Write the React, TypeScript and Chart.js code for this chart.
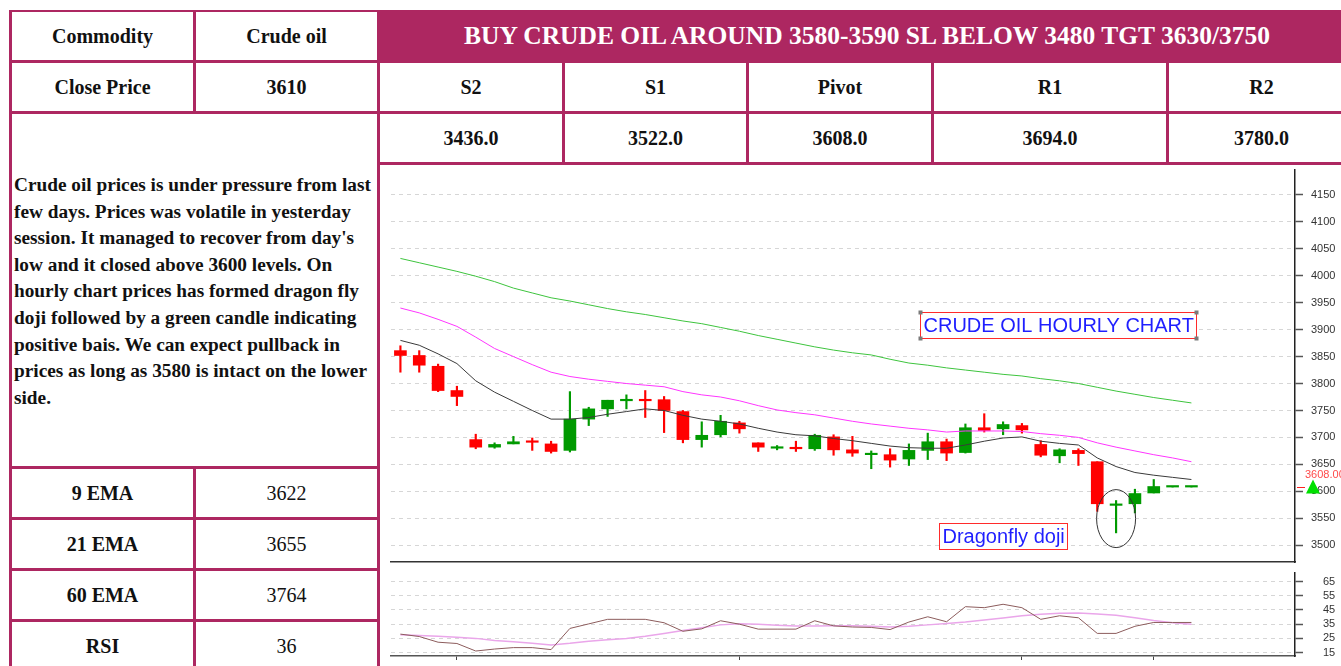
import React, { useEffect, useRef } from "react";
import { Chart, registerables } from "chart.js";

Chart.register(...registerables);

// ---------------- data ----------------
const barLabels = [
  "1", "2", "3", "4", "5", "6", "7", "8", "9", "10", "11", "12", "13", "14", "15",
  "16", "17", "18", "19", "20", "21", "22", "23", "24", "25", "26", "27", "28", "29", "30",
  "31", "32", "33", "34", "35", "36", "37", "38", "39", "40", "41", "42", "43",
];
const emptySlots = ["", "", "", "", ""];

const opens = [3861, 3852, 3832, 3787, 3696, 3682, 3688, 3693, 3688, 3676, 3734, 3753, 3768, 3770, 3770, 3748, 3696, 3705, 3727, 3690, 3680, 3681, 3679, 3701, 3677, 3668, 3668, 3660, 3676, 3692, 3672, 3718, 3716, 3722, 3687, 3666, 3676, 3655, 3574, 3577, 3597, 3608, 3608];
const closes = [3852, 3834, 3787, 3776, 3682, 3687, 3692, 3691, 3674, 3734, 3753, 3769, 3770, 3768, 3750, 3696, 3704, 3730, 3716, 3682, 3682, 3679, 3704, 3677, 3671, 3670, 3658, 3676, 3692, 3671, 3718, 3713, 3724, 3714, 3667, 3677, 3670, 3577, 3575, 3596, 3609, 3608, 3608];
const highs = [3870, 3861, 3836, 3795, 3706, 3690, 3702, 3699, 3693, 3785, 3756, 3769, 3779, 3787, 3776, 3750, 3729, 3741, 3730, 3690, 3685, 3693, 3706, 3705, 3702, 3675, 3679, 3688, 3708, 3697, 3725, 3744, 3729, 3726, 3694, 3679, 3679, 3655, 3583, 3604, 3622, 3608, 3608];
const lows = [3821, 3821, 3785, 3759, 3679, 3680, 3688, 3676, 3671, 3673, 3722, 3739, 3753, 3737, 3709, 3690, 3682, 3701, 3708, 3674, 3677, 3674, 3676, 3667, 3665, 3642, 3645, 3648, 3659, 3657, 3671, 3710, 3705, 3708, 3664, 3653, 3648, 3563, 3523, 3560, 3597, 3608, 3608];

const ema9 = [3880, 3871, 3855, 3837, 3805, 3784, 3767, 3750, 3734, 3734, 3737, 3743, 3748, 3753, 3750, 3741, 3734, 3730, 3725, 3717, 3710, 3705, 3703, 3698, 3694, 3689, 3684, 3681, 3680, 3680, 3686, 3693, 3699, 3701, 3693, 3689, 3686, 3662, 3646, 3635, 3630, 3626, 3622];
const ema21 = [3940, 3931, 3919, 3906, 3886, 3865, 3850, 3835, 3821, 3813, 3808, 3804, 3800, 3797, 3794, 3785, 3779, 3775, 3768, 3759, 3751, 3746, 3742, 3736, 3730, 3725, 3721, 3717, 3714, 3710, 3712, 3712, 3712, 3711, 3707, 3704, 3700, 3690, 3682, 3675, 3668, 3662, 3655];
const ema60 = [4032, 4024, 4016, 4008, 3999, 3989, 3977, 3968, 3959, 3953, 3946, 3939, 3933, 3928, 3922, 3916, 3911, 3904, 3897, 3889, 3882, 3875, 3868, 3862, 3857, 3853, 3845, 3838, 3834, 3829, 3825, 3821, 3817, 3814, 3809, 3805, 3800, 3793, 3786, 3780, 3774, 3769, 3764];

const rsi = [28, 26.3, 22.3, 21.4, 16.1, 17.5, 18.5, 18.5, 17.1, 32, 35.2, 38.4, 38.4, 38.4, 36, 30, 31.7, 37.4, 35, 31.5, 31.5, 31.5, 37.4, 33.8, 33, 32.7, 31.2, 36.5, 40.2, 36.7, 47.3, 46.6, 49, 46.6, 38.4, 40.9, 39.5, 28.5, 28.5, 33.5, 36.2, 36.2, 36.2];
const rsiSignal = [27.5, 27, 26.5, 25.8, 25, 23.5, 22.6, 21.5, 20.3, 21.5, 23, 24, 24.9, 26.5, 28.5, 30.5, 32.5, 34.5, 35.3, 35, 34.3, 33.7, 33.7, 33.8, 33.8, 33.5, 33, 33.6, 34.5, 35.5, 36.5, 38, 39.4, 41, 42, 42.7, 42.9, 42.2, 41.3, 39.5, 37.5, 36, 35];

const priceTicks = [3500, 3550, 3600, 3650, 3700, 3750, 3800, 3850, 3900, 3950, 4000, 4050, 4100, 4150];
const rsiTicks = [15, 25, 35, 45, 55, 65];
const rsiTimeTicks = [3, 18, 33, 40];
const lastPrice = 3608;

// chart annotations, anchored in data units (bar index, price)
const textNotes = [
  { text: "CRUDE OIL HOURLY CHART", index: 27.6, value: 3932, handles: true },
  { text: "Dragonfly doji", index: 28.6, value: 3542, handles: false },
];
const dojiMark = { index: 38, value: 3549.5 };

// table content
const pivotHeads = ["S2", "S1", "Pivot", "R1", "R2"];
const pivotValues = ["3436.0", "3522.0", "3608.0", "3694.0", "3780.0"];
const emaRows = [
  ["9 EMA", "3622"],
  ["21 EMA", "3655"],
  ["60 EMA", "3764"],
  ["RSI", "36"],
];
const commentLines = [
  "Crude oil prices is under pressure from last",
  "few days. Prices was volatile in yesterday",
  "session. It managed to recover from day's",
  "low and it closed above 3600 levels. On",
  "hourly chart prices has formed dragon fly",
  "doji followed by a green candle indicating",
  "positive bais. We can expect pullback in",
  "prices as long as 3580 is intact on the lower",
  "side.",
];
const headline = "BUY CRUDE OIL AROUND 3580-3590 SL BELOW 3480 TGT 3630/3750";

// ---------------- styles ----------------
const MAROON = "#AD2761";
const SERIF = "'Liberation Serif', 'Times New Roman', serif";
const SANS = "'Liberation Sans', Arial, sans-serif";
const UP = "#009a00";
const DOWN = "#ff0000";

function fixRightAxis(s: any) {
  s.width = 41;
  s.paddingTop = 0;
  s.paddingBottom = 0;
}

function PriceChart() {
  const ref = useRef<HTMLCanvasElement>(null);
  useEffect(() => {
    const labels = [...barLabels, ...emptySlots];
    const colors = opens.map((o, i) => (closes[i] >= o ? UP : DOWN));
    const overlay = {
      id: "overlay",
      afterDatasetsDraw(c: any) {
        const { ctx } = c;
        const xs = c.scales.x;
        const ys = c.scales.y;
        ctx.save();
        ctx.beginPath();
        ctx.ellipse(
          xs.getPixelForValue(dojiMark.index),
          ys.getPixelForValue(dojiMark.value),
          19.5, 29, 0, 0, Math.PI * 2
        );
        ctx.strokeStyle = "#333";
        ctx.lineWidth = 1;
        ctx.stroke();
        for (const n of textNotes) {
          ctx.font = "20px " + SANS;
          const w = Math.round(ctx.measureText(n.text).width + 6);
          const h = 26;
          const x = Math.round(xs.getPixelForValue(n.index)) + 0.5;
          const y = Math.round(ys.getPixelForValue(n.value)) + 0.5;
          ctx.fillStyle = "#fff";
          ctx.fillRect(x, y, w, h);
          ctx.strokeStyle = "#ff2b2b";
          ctx.lineWidth = 1;
          ctx.strokeRect(x, y, w, h);
          ctx.fillStyle = "#1f1fff";
          ctx.textBaseline = "middle";
          ctx.textAlign = "left";
          ctx.fillText(n.text, x + 3, y + h / 2 + 1);
          if (n.handles) {
            ctx.fillStyle = "#7a7a7a";
            for (const [cx, cy] of [[x, y], [x + w, y], [x, y + h], [x + w, y + h]]) {
              ctx.fillRect(cx - 2, cy - 2, 4, 4);
            }
          }
        }
        ctx.restore();
      },
      afterDraw(c: any) {
        const { ctx, chartArea } = c;
        const ys = c.scales.y;
        const y = Math.round(ys.getPixelForValue(lastPrice)) + 0.5;
        const xa = chartArea.right;
        ctx.save();
        ctx.strokeStyle = "#ff2020";
        ctx.lineWidth = 1;
        ctx.beginPath();
        ctx.moveTo(xa + 2, y);
        ctx.lineTo(xa + 10, y);
        ctx.stroke();
        ctx.fillStyle = "#00e000";
        ctx.beginPath();
        ctx.moveTo(xa + 18, y - 8);
        ctx.lineTo(xa + 11, y + 6);
        ctx.lineTo(xa + 25, y + 6);
        ctx.closePath();
        ctx.fill();
        ctx.fillStyle = "#ff4a4a";
        ctx.font = "11px " + SANS;
        ctx.textBaseline = "middle";
        ctx.textAlign = "left";
        ctx.fillText(lastPrice.toFixed(2), xa + 10, y - 13);
        ctx.restore();
      },
    };
    const chart = new Chart(ref.current as HTMLCanvasElement, {
      type: "bar",
      data: {
        labels,
        datasets: [
          { type: "line", data: ema9, borderColor: "#3a3a3a", borderWidth: 1, pointRadius: 0, tension: 0, order: 0 } as any,
          { type: "line", data: ema21, borderColor: "#ff35ff", borderWidth: 1, pointRadius: 0, tension: 0, order: 0 } as any,
          { type: "line", data: ema60, borderColor: "#3ec43e", borderWidth: 1, pointRadius: 0, tension: 0, order: 0 } as any,
          {
            type: "bar",
            data: opens.map((o, i) => [o, closes[i]]),
            backgroundColor: colors,
            barThickness: 12,
            minBarLength: 1.5,
            grouped: false,
            order: 1,
          } as any,
          {
            type: "bar",
            data: lows.map((l, i) => [l, highs[i]]),
            backgroundColor: colors,
            barThickness: 1.5,
            grouped: false,
            order: 2,
          } as any,
        ],
      },
      options: {
        animation: false,
        responsive: false,
        devicePixelRatio: 1,
        events: [],
        layout: { padding: { left: 11, right: 5, top: 5, bottom: 4 } },
        plugins: { legend: { display: false }, tooltip: { enabled: false } },
        scales: {
          x: {
            type: "category",
            offset: true,
            grid: { display: false, drawTicks: false },
            ticks: { display: false },
            border: { display: true, color: "#333", width: 1.5 },
          },
          y: {
            type: "linear",
            position: "right",
            min: 3469,
            max: 4196,
            afterBuildTicks: (s: any) => {
              s.ticks = priceTicks.map((v) => ({ value: v }));
            },
            afterFit: fixRightAxis,
            grid: { color: "#d6d6d6", lineWidth: 1, tickColor: "#555", tickWidth: 1.5, tickLength: 8 },
            border: { display: true, color: "#222", width: 1.5, dash: [4, 4] },
            ticks: {
              padding: 8,
              color: "#333",
              font: { family: SANS, size: 11 },
              callback: (v: any) => String(v),
            },
          },
        },
      } as any,
      plugins: [overlay],
    });
    return () => chart.destroy();
  }, []);
  return (
    <canvas
      ref={ref}
      width={961}
      height={401}
      style={{ position: "absolute", left: 380, top: 165, width: 961, height: 401 }}
    />
  );
}

function RsiChart() {
  const ref = useRef<HTMLCanvasElement>(null);
  useEffect(() => {
    const labels = [...barLabels, ...emptySlots];
    const chart = new Chart(ref.current as HTMLCanvasElement, {
      type: "line",
      data: {
        labels,
        datasets: [
          { data: rsi, borderColor: "#8c5c5c", borderWidth: 1, pointRadius: 0, tension: 0 },
          { data: rsiSignal, borderColor: "#eaa6ea", borderWidth: 1.5, pointRadius: 0, tension: 0 },
        ],
      },
      options: {
        animation: false,
        responsive: false,
        devicePixelRatio: 1,
        events: [],
        layout: { padding: { left: 11, right: 5, top: 7, bottom: 6 } },
        plugins: { legend: { display: false }, tooltip: { enabled: false } },
        scales: {
          x: {
            type: "category",
            offset: true,
            afterBuildTicks: (s: any) => {
              s.ticks = rsiTimeTicks.map((v) => ({ value: v }));
            },
            grid: { display: true, drawOnChartArea: false, drawTicks: true, tickLength: 4, tickColor: "#444", tickWidth: 1, offset: false },
            ticks: { display: false },
            border: { display: true, color: "#555", width: 1.5 },
          },
          y: {
            type: "linear",
            position: "right",
            min: 12.6,
            max: 71,
            afterBuildTicks: (s: any) => {
              s.ticks = rsiTicks.map((v) => ({ value: v }));
            },
            afterFit: fixRightAxis,
            grid: { color: "#d6d6d6", lineWidth: 1, tickColor: "#555", tickWidth: 1.5, tickLength: 8 },
            border: { display: true, color: "#222", width: 1.5, dash: [4, 4] },
            ticks: {
              padding: 20,
              color: "#333",
              font: { family: SANS, size: 11 },
              callback: (v: any) => String(v),
            },
          },
        },
      } as any,
    });
    return () => chart.destroy();
  }, []);
  return (
    <canvas
      ref={ref}
      width={961}
      height={100}
      style={{ position: "absolute", left: 380, top: 566, width: 961, height: 100 }}
    />
  );
}

function Line({ x, y, w, h }: { x: number; y: number; w: number; h: number }) {
  return <div style={{ position: "absolute", left: x, top: y, width: w, height: h, background: MAROON }} />;
}

function Cell({
  x1, x2, y1, y2, children, bold = true, size = 20, color = "#111",
}: {
  x1: number; x2: number; y1: number; y2: number; children: any; bold?: boolean; size?: number; color?: string;
}) {
  return (
    <div
      style={{
        position: "absolute",
        left: x1,
        top: y1,
        width: x2 - x1,
        height: y2 - y1,
        display: "flex",
        alignItems: "center",
        justifyContent: "center",
        fontFamily: SERIF,
        fontWeight: bold ? 700 : 400,
        fontSize: size,
        color,
        whiteSpace: "nowrap",
      }}
    >
      {children}
    </div>
  );
}

export default function App() {
  const pivotCols = [378, 563, 747, 932, 1167, 1355];
  const emaRowsY = [467, 518, 569, 620, 671];
  return (
    <div
      style={{
        position: "fixed",
        left: 0,
        top: 0,
        width: 1341,
        height: 666,
        overflow: "hidden",
        background: "#fff",
      }}
    >
      {/* headline background */}
      <div style={{ position: "absolute", left: 378, top: 11, width: 977, height: 51, background: MAROON }} />
      <PriceChart />
      <RsiChart />

      {/* grid lines of the table */}
      <Line x={9} y={10} w={1346} h={2} />
      <Line x={9} y={60} w={1346} h={3} />
      <Line x={9} y={111} w={1346} h={3} />
      <Line x={378} y={162} w={977} h={3} />
      {[466, 517, 568, 619].map((y) => (
        <Line key={y} x={9} y={y} w={370} h={3} />
      ))}
      <Line x={9} y={10} w={3} h={656} />
      <Line x={193} y={10} w={3} h={103} />
      <Line x={193} y={466} w={3} h={200} />
      <Line x={377} y={10} w={3} h={656} />
      {[562, 746, 931, 1166].map((x) => (
        <Line key={x} x={x} y={61} w={3} h={103} />
      ))}

      {/* texts */}
      <Cell x1={11} x2={194} y1={12} y2={61}>Commodity</Cell>
      <Cell x1={195} x2={378} y1={12} y2={61}>Crude oil</Cell>
      <Cell x1={379} x2={1355} y1={11} y2={61} size={25.5} color="#ffffff">{headline}</Cell>
      <Cell x1={11} x2={194} y1={62} y2={112}>Close Price</Cell>
      <Cell x1={195} x2={378} y1={62} y2={112}>3610</Cell>
      {pivotHeads.map((t, i) => (
        <Cell key={t} x1={pivotCols[i] + 1} x2={pivotCols[i + 1]} y1={62} y2={112}>{t}</Cell>
      ))}
      {pivotValues.map((t, i) => (
        <Cell key={t} x1={pivotCols[i] + 1} x2={pivotCols[i + 1]} y1={113} y2={163}>{t}</Cell>
      ))}
      <div
        style={{
          position: "absolute",
          left: 14,
          top: 172,
          fontFamily: SERIF,
          fontWeight: 700,
          fontSize: 19.3,
          lineHeight: "26.6px",
          color: "#111",
          whiteSpace: "nowrap",
        }}
      >
        {commentLines.map((l, i) => (
          <div key={i}>{l}</div>
        ))}
      </div>
      {emaRows.map(([k, v], i) => (
        <React.Fragment key={k}>
          <Cell x1={11} x2={194} y1={emaRowsY[i] + 1} y2={emaRowsY[i + 1]}>{k}</Cell>
          <Cell x1={195} x2={378} y1={emaRowsY[i] + 1} y2={emaRowsY[i + 1]} bold={false}>{v}</Cell>
        </React.Fragment>
      ))}
    </div>
  );
}
